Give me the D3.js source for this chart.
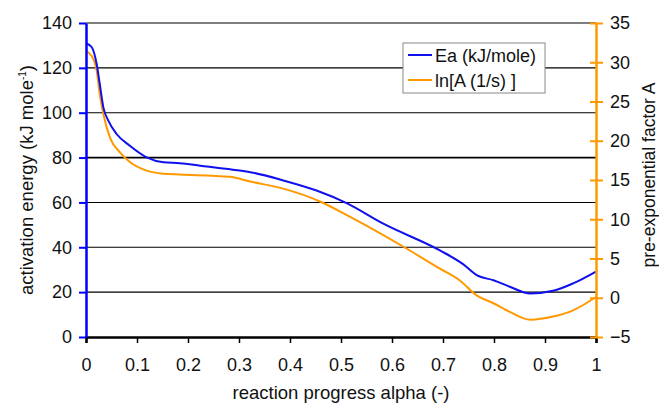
<!DOCTYPE html>
<meta charset="utf-8">
<head>
<title>Activation energy</title>
<script src="https://d3js.org/d3.v7.min.js"></script>
<style>
  body { margin: 0; background: #fff; }
  text { font-family: "Liberation Sans", Arial, sans-serif; fill: #111; }
</style>
</head>
<body>
<svg id="chart"></svg>
<script>
// reaction progress alpha
var alphaEa = [0, 0.011, 0.021, 0.027, 0.034, 0.044, 0.06, 0.086, 0.119, 0.152, 0.184, 0.224, 0.288, 0.322, 0.387, 0.452, 0.511, 0.583, 0.694, 0.74, 0.766, 0.799, 0.831, 0.871, 0.916, 0.955, 1.0];
var ea = [131.0, 129.3, 121.6, 112.8, 102.4, 96.4, 90.5, 85.3, 80.1, 77.9, 77.5, 76.4, 74.6, 73.5, 69.8, 65.3, 59.7, 50.5, 38.6, 32.4, 27.6, 25.3, 22.4, 19.4, 20.6, 23.9, 29.2];

var alphaA = [0, 0.011, 0.021, 0.027, 0.034, 0.047, 0.067, 0.086, 0.119, 0.152, 0.184, 0.282, 0.322, 0.387, 0.461, 0.518, 0.625, 0.694, 0.733, 0.766, 0.799, 0.831, 0.871, 0.916, 0.955, 1.0];
var lnA = [31.4, 30.8, 28.9, 25.9, 23.4, 20.4, 18.5, 17.3, 16.2, 15.8, 15.7, 15.4, 14.8, 13.9, 12.2, 10.3, 6.4, 3.7, 2.2, 0.3, -0.7, -1.8, -2.8, -2.4, -1.6, 0.1];

var xTicks = [0, 0.1, 0.2, 0.3, 0.4, 0.5, 0.6, 0.7, 0.8, 0.9, 1];
var leftTicks = [0, 20, 40, 60, 80, 100, 120, 140];
var rightTicks = [-5, 0, 5, 10, 15, 20, 25, 30, 35];
var seriesNames = ["Ea (kJ/mole)", "ln[A (1/s) ]"];

var W = 659, H = 403;
var margin = {top: 23, right: 63, bottom: 66, left: 86};
var width = W - margin.left - margin.right, height = H - margin.top - margin.bottom;

var svg = d3.select("#chart").attr("width", W).attr("height", H);
var g = svg.append("g").attr("transform", "translate(" + margin.left + "," + margin.top + ")");

var x = d3.scaleLinear().domain([0, 1]).range([0, width]);
var yL = d3.scaleLinear().domain([0, 140]).range([height, 0]);
var yR = d3.scaleLinear().domain([-5, 35]).range([height, 0]);

// gridlines
g.append("g").selectAll("line").data(leftTicks.slice(1)).enter().append("line")
  .attr("x1", 0).attr("x2", width)
  .attr("y1", d => yL(d)).attr("y2", d => yL(d))
  .attr("stroke", "#000").attr("stroke-width", d => d == 80 ? 1.8 : 1.1);

// lines
var lineEa = d3.line().x((d, i) => x(alphaEa[i])).y(d => yL(d)).curve(d3.curveMonotoneX);
var lineA = d3.line().x((d, i) => x(alphaA[i])).y(d => yR(d)).curve(d3.curveMonotoneX);

g.append("path").datum(lnA).attr("d", lineA).attr("fill", "none").attr("stroke", "#ff9900").attr("stroke-width", 2);
g.append("path").datum(ea).attr("d", lineEa).attr("fill", "none").attr("stroke", "#1010ee").attr("stroke-width", 2);

// x axis
var xAxis = g.append("g").attr("transform", "translate(0," + height + ")")
  .call(d3.axisBottom(x).tickValues(xTicks).tickFormat(d3.format("")).tickSize(6).tickPadding(15));
xAxis.select(".domain").attr("stroke", "#000").attr("stroke-width", 2.5);
xAxis.selectAll(".tick line").attr("stroke", "#000").attr("stroke-width", 1.5);
xAxis.selectAll("text").style("font-size", "18px");

// left axis
var lAxis = g.append("g").call(d3.axisLeft(yL).tickValues(leftTicks).tickSize(7).tickSizeOuter(0).tickPadding(7));
lAxis.select(".domain").attr("stroke", "#0000ff").attr("stroke-width", 2.5);
lAxis.selectAll(".tick line").attr("stroke", "#0000ff").attr("stroke-width", 2);
lAxis.selectAll("text").style("font-size", "18px");

// right axis
var rAxis = g.append("g").attr("transform", "translate(" + width + ",0)")
  .call(d3.axisRight(yR).tickValues(rightTicks).tickSize(7).tickSizeOuter(0).tickPadding(7));
rAxis.select(".domain").attr("stroke", "#ff9900").attr("stroke-width", 2.5);
rAxis.selectAll(".tick line").attr("stroke", "#ff9900").attr("stroke-width", 2).attr("x1", -6);
rAxis.selectAll("text").style("font-size", "18px");
svg.selectAll(".tick text").attr("fill", "#111");

// axis titles
svg.append("text").attr("x", 341).attr("y", 399).attr("text-anchor", "middle")
  .style("font-size", "18.5px").text("reaction progress alpha (-)");

var lt = svg.append("text").attr("transform", "translate(33,180) rotate(-90)").attr("text-anchor", "middle")
  .style("font-size", "18.5px");
lt.append("tspan").text("activation energy (kJ mole");
lt.append("tspan").attr("dy", -7).style("font-size", "10px").text("-1");
lt.append("tspan").attr("dy", 7).text(")");

svg.append("text").attr("transform", "translate(655,175) rotate(-90)").attr("text-anchor", "middle")
  .style("font-size", "17.5px").text("pre-exponential factor A");

// legend
var legend = svg.append("g").attr("transform", "translate(403,43)");
legend.append("rect").attr("width", 142).attr("height", 50).attr("fill", "#fff").attr("stroke", "#888").attr("stroke-width", 1);
var colors = ["#1010ee", "#ff9900"];
seriesNames.forEach(function(n, i) {
  var yy = 12 + i * 25;
  legend.append("line").attr("x1", 5).attr("x2", 29).attr("y1", yy).attr("y2", yy)
    .attr("stroke", colors[i]).attr("stroke-width", 2);
  legend.append("text").attr("x", 32).attr("y", yy + 6.5).style("font-size", "18px").text(n);
});
</script>
</body>
